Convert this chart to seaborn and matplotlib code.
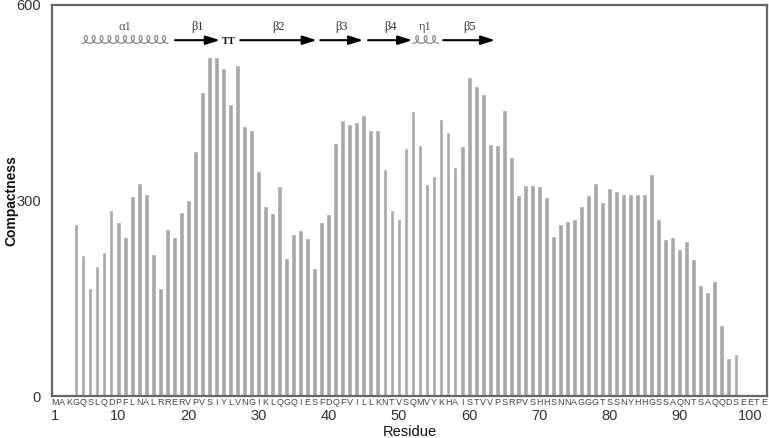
import numpy as np
import pandas as pd
import matplotlib
matplotlib.use("Agg")
import matplotlib.pyplot as plt
import seaborn as sns

# ---------------- data ----------------
sequence = "MAKGQSLQDPFLNALRRERVPVSIYLVNGIKLQGQIESFDQFVILLKNTVSQMVYKHAISTVVPSRPVSHHSNNAGGGTSSNYHHGSSAQNTSAQQDSEETE"
first_residue = 4
compactness = [
    264, 217, 165, 199, 221, 285, 267, 244, 307, 327,   # 4-13
    310, 218, 166, 256, 244, 282, 300, 376, 466, 520,   # 14-23
    520, 503, 448, 508, 414, 408, 345, 291, 281, 322,   # 24-33
    212, 248, 254, 243, 196, 267, 279, 389, 423, 417,   # 34-43
    421, 431, 408, 408, 349, 286, 272, 380, 438, 385,   # 44-53
    326, 338, 425, 405, 351, 383, 490, 475, 463, 386,   # 54-63
    385, 439, 367, 308, 324, 324, 322, 305, 245, 264,   # 64-73
    268, 272, 291, 309, 327, 298, 319, 315, 310, 310,   # 74-83
    310, 310, 341, 272, 241, 244, 226, 238, 210, 170,   # 84-93
    159, 177, 109, 58, 65,                              # 94-98
]
residues = list(range(first_residue, first_residue + len(compactness)))
x_ticks = [1, 10, 20, 30, 40, 50, 60, 70, 80, 90, 100]
y_ticks = [0, 300, 600]

# secondary structure: (label, kind, start residue, end residue)
ss_names = ["α1", "β1", "TT", "β2", "β3", "β4", "η1", "β5"]
ss_kinds = ["helix", "strand", "turn", "strand", "strand", "strand", "helix", "strand"]
ss_start = [4.85, 18.1, 25.0, 27.4, 38.8, 45.6, 52.0, 56.3]
ss_end = [17.1, 24.5, 26.4, 38.3, 44.9, 51.9, 55.6, 63.7]

df = pd.DataFrame({"Residue": residues, "Compactness": compactness})

# ---------------- figure ----------------
sns.set_theme(style="white")
plt.rcParams["font.family"] = ["Liberation Sans", "DejaVu Sans"]

W, H = 769, 438
fig = plt.figure(figsize=(W / 100, H / 100), dpi=100)
left_px, right_px, top_px, bottom_px = 52, 767, 5, 396
ax = fig.add_axes([left_px / W, 1 - bottom_px / H,
                   (right_px - left_px) / W, (bottom_px - top_px) / H])

sns.barplot(data=df, x="Residue", y="Compactness", native_scale=True,
            color="#a8a8a8", saturation=1, width=0.68, ax=ax)

xmin, xmax = 0.58, 102.43
ax.set_xlim(xmin, xmax)
ax.set_ylim(0, 600)
ax.set_yticks(y_ticks)
ax.set_yticklabels([str(v) for v in y_ticks], fontsize=10.5, color="#333333")
ax.set_xticks(x_ticks)
ax.set_xticklabels([str(v) for v in x_ticks], fontsize=10.5, color="#333333")
ax.tick_params(axis="x", length=0, pad=9)
ax.tick_params(axis="y", length=0, pad=8)
ax.set_xlabel("Residue", fontsize=10.5, labelpad=2, color="#111111")
ax.set_ylabel("Compactness", fontsize=10, fontweight="bold", color="#111111")
ax.yaxis.set_label_coords(-0.047, 0.5)
for s in ax.spines.values():
    s.set_visible(True)
    s.set_color("#666666")
    s.set_linewidth(1.6)

# sequence letters under the axis
trans = matplotlib.transforms.blended_transform_factory(ax.transData, ax.transAxes)
for i, ch in enumerate(sequence):
    ax.text(i + 1, -0.004, ch, transform=trans, ha="center", va="top",
            fontsize=6.5, color="#444444", clip_on=False)

# secondary structure annotation
px_per_x = (right_px - left_px) / (xmax - xmin)
px_per_y = (bottom_px - top_px) / 600.0
y_arrow = 546
y_label = 566
serif = ["Liberation Serif", "DejaVu Serif"]
for name, kind, s0, s1 in zip(ss_names, ss_kinds, ss_start, ss_end):
    mid = (s0 + s1) / 2
    if kind == "strand":
        ax.annotate("", xy=(s1, y_arrow), xytext=(s0, y_arrow),
                    arrowprops=dict(arrowstyle="-|>,head_length=0.7,head_width=0.22",
                                    color="black", lw=1.5, shrinkA=0, shrinkB=0))
        ax.text(mid, y_label, name, ha="center", va="center", fontsize=9,
                family=serif, color="#333333")
    elif kind == "helix":
        length_px = (s1 - s0) * px_per_x
        pitch = 7.8
        n = max(1, int(round(length_px / pitch)))
        a = length_px / (2 * np.pi * n)
        t = np.linspace(0, 2 * np.pi * n, 80 * n)
        xp = a * t + 3.2 * np.sin(t)
        yp = -3.8 * np.cos(t)
        ax.plot(s0 + xp / px_per_x, y_arrow + 1 + yp / px_per_y,
                color="#8a8a8a", lw=0.9, clip_on=False)
        ax.text(mid, y_label, name, ha="center", va="center", fontsize=9,
                family=serif, color="#555555")
    else:
        ax.text(mid, y_arrow - 2, name, ha="center", va="center", fontsize=7.5,
                family=serif, fontweight="bold", color="#111111")

fig.savefig("out.png", dpi=100)
